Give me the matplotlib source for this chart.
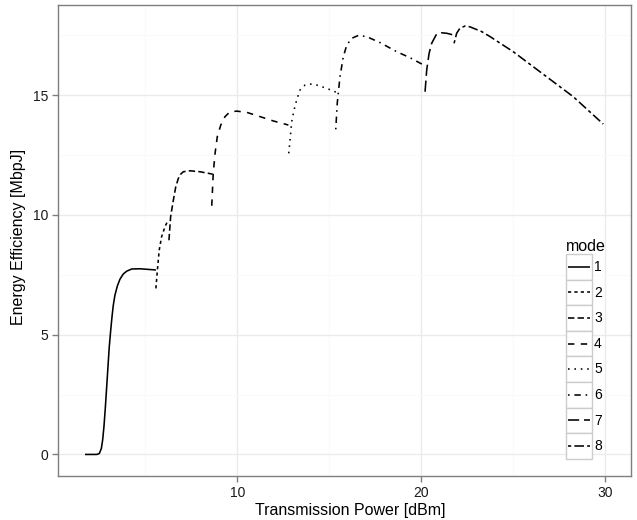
import matplotlib
matplotlib.use("Agg")
import matplotlib.pyplot as plt
from matplotlib.legend_handler import HandlerLine2D
from matplotlib.patches import Rectangle
from matplotlib.lines import Line2D

plt.rcParams['font.family'] = ['Liberation Sans', 'DejaVu Sans']

modes = ["1", "2", "3", "4", "5", "6", "7", "8"]

m1_x = [1.71, 2.35, 2.49, 2.60, 2.67, 2.74, 2.82, 2.89, 2.96, 3.03, 3.11, 3.18,
        3.25, 3.34, 3.47, 3.61, 3.79, 3.98, 4.25, 4.70, 5.57]
m1_y = [0.00, 0.00, 0.04, 0.25, 0.60, 1.15, 1.99, 2.82, 3.66, 4.49, 5.19, 5.75,
        6.23, 6.65, 7.03, 7.31, 7.53, 7.65, 7.74, 7.75, 7.70]

m2_x = [5.57, 5.65, 5.75, 5.88, 6.06, 6.19]
m2_y = [6.93, 7.70, 8.53, 9.09, 9.50, 9.71]

m3_x = [6.28, 6.37, 6.52, 6.65, 6.79, 6.92, 7.06, 7.43, 7.97, 8.66]
m3_y = [8.94, 9.92, 10.62, 11.17, 11.52, 11.70, 11.80, 11.84, 11.80, 11.70]

m4_x = [8.61, 8.69, 8.79, 8.91, 9.10, 9.33, 9.60, 9.97, 10.51, 11.24, 11.96, 12.78]
m4_y = [10.38, 11.73, 12.57, 13.26, 13.75, 14.10, 14.30, 14.33, 14.28, 14.10, 13.92, 13.75]

m5_x = [12.80, 12.87, 12.96, 13.09, 13.23, 13.41, 13.69, 13.96, 14.32, 14.87, 15.41]
m5_y = [12.57, 13.12, 13.89, 14.38, 14.79, 15.21, 15.42, 15.46, 15.42, 15.28, 15.11]

m6_x = [15.36, 15.44, 15.59, 15.77, 15.96, 16.23, 16.59, 17.04, 17.77, 18.68, 19.40, 20.13]
m6_y = [13.57, 14.66, 15.77, 16.60, 17.09, 17.37, 17.49, 17.44, 17.19, 16.81, 16.56, 16.26]

m7_x = [20.22, 20.31, 20.44, 20.58, 20.82, 21.13, 21.40, 21.76]
m7_y = [15.14, 16.05, 16.74, 17.16, 17.51, 17.60, 17.58, 17.51]

m8_x = [21.80, 21.94, 22.12, 22.39, 22.66, 23.30, 23.76, 25.02, 26.48, 28.29, 29.92]
m8_y = [17.16, 17.58, 17.79, 17.88, 17.85, 17.65, 17.44, 16.81, 15.97, 14.93, 13.79]

series_x = [m1_x, m2_x, m3_x, m4_x, m5_x, m6_x, m7_x, m8_x]
series_y = [m1_y, m2_y, m3_y, m4_y, m5_y, m6_y, m7_y, m8_y]

x_ticks = [10, 20, 30]
y_ticks = [0, 5, 10, 15]

# ggplot2 linetype palette
dash_styles = ['-', (0, (2, 2)), (0, (4, 2)), (0, (4, 4)), (0, (1, 3)),
               (0, (1, 3, 4, 3)), (0, (7, 3)), (0, (2, 2, 6, 2))]

W, H = 637, 520
LW = 1.15
fig = plt.figure(figsize=(W / 100, H / 100), dpi=100)
ax = fig.add_axes([58 / W, 1 - 476 / H, (631 - 58) / W, (476 - 5) / H])

handles = []
for xs, ys, ls, lab in zip(series_x, series_y, dash_styles, modes):
    h, = ax.plot(xs, ys, color='black', lw=LW, linestyle=ls, label=lab,
                 dash_capstyle='butt', solid_capstyle='butt')
    handles.append(h)

ax.set_xlim(0.24, 31.43)
ax.set_ylim(-0.9, 18.76)
ax.set_xticks(x_ticks)
ax.set_yticks(y_ticks)
ax.set_xticks([5, 15, 25], minor=True)
ax.set_yticks([2.5, 7.5, 12.5, 17.5], minor=True)
ax.grid(which='major', color='#ebebeb', lw=1.0)
ax.grid(which='minor', color='#fafafa', lw=0.8)
ax.set_axisbelow(True)
for s in ax.spines.values():
    s.set_color('#7f7f7f')
    s.set_linewidth(1.0)
ax.tick_params(which='major', length=4, color='#7f7f7f', width=1.0,
               labelsize=10, labelcolor='#1a1a1a', pad=3)
ax.tick_params(which='minor', length=0)
fig.text(350 / W, 1 - 510 / H, 'Transmission Power [dBm]', fontsize=11.5,
         ha='center', va='center')
fig.text(19 / W, 1 - 237 / H, 'Energy Efficiency [MbpJ]', fontsize=11.5,
         ha='center', va='center', rotation=90)


class BoxedLineHandler(HandlerLine2D):
    def __init__(self, ls, **kw):
        super().__init__(**kw)
        self.ls = ls

    def create_artists(self, legend, orig_handle, xdescent, ydescent,
                       width, height, fontsize, trans):
        rect = Rectangle((-xdescent, -ydescent), width, height,
                         facecolor='white', edgecolor='#cccccc', lw=1.0,
                         transform=trans)
        ln = Line2D([-xdescent + 1.5, -xdescent + width - 1.5],
                    [-ydescent + height / 2] * 2, color='black', lw=LW,
                    linestyle=self.ls,
                    dash_capstyle='butt', solid_capstyle='butt',
                    transform=trans)
        return [rect, ln]


hmap = {h: BoxedLineHandler(ls) for h, ls in zip(handles, dash_styles)}
leg = fig.legend(handles, modes, title='mode', loc='upper left',
                 bbox_to_anchor=(559 / W, 1 - 232 / H),
                 frameon=False, fontsize=10, title_fontsize=11.5,
                 handlelength=1.872, handleheight=2.458,
                 labelspacing=0.0, handletextpad=0.15, borderpad=0.0,
                 alignment='left', handler_map=hmap)

fig.savefig('out.png', dpi=100)
